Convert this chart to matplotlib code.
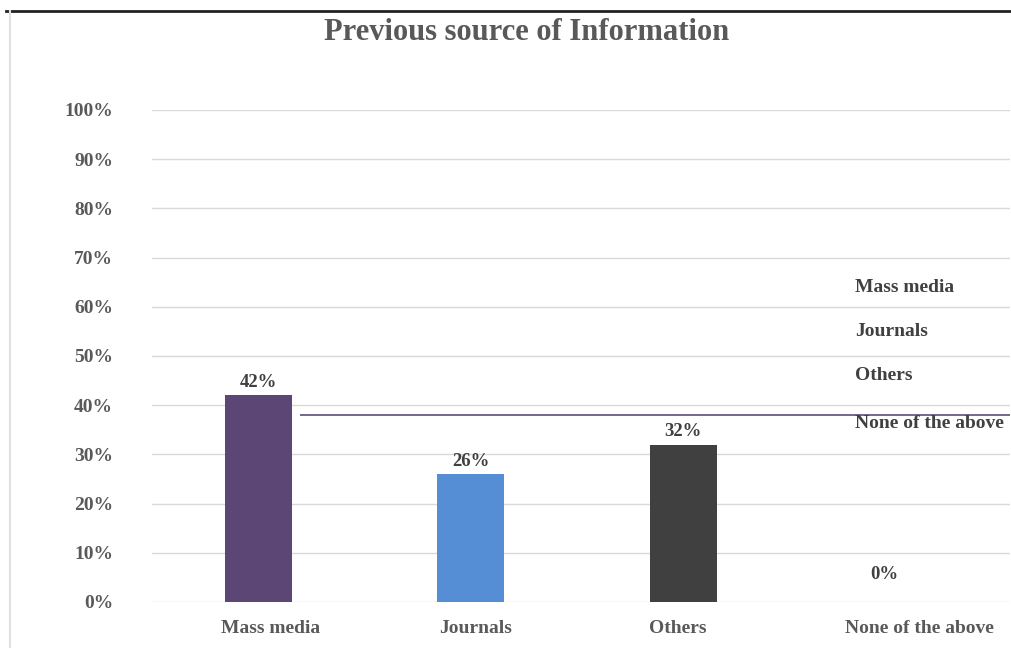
import matplotlib
matplotlib.use("Agg")
import matplotlib.pyplot as plt
from matplotlib.lines import Line2D
from matplotlib.transforms import ScaledTranslation

categories = ["Mass media", "Journals", "Others", "None of the above"]
shares = [0.42, 0.26, 0.32, 0.0]
bar_colors = ["#5B4676", "#558ED5", "#404040", "#8064A2"]
y_ticks = [0.0, 0.1, 0.2, 0.3, 0.4, 0.5, 0.6, 0.7, 0.8, 0.9, 1.0]
y_tick_labels = ["0%", "10%", "20%", "30%", "40%", "50%", "60%", "70%", "80%", "90%", "100%"]
series_line_level = 0.38
title = "Previous source of Information"

W, H = 1011, 648
fig = plt.figure(figsize=(W / 100, H / 100), dpi=100)
fig.patch.set_facecolor("white")

serif = ["Liberation Serif", "DejaVu Serif"]
text_gray = "#595959"
dark_gray = "#404040"

# plot area in pixel coordinates (from top-left)
left_px, right_px = 152, 1010
top_px, base_px = 110, 602
ax = fig.add_axes([left_px / W, 1 - base_px / H,
                   (right_px - left_px) / W, (base_px - top_px) / H])
slot = 212.5
ax.set_xlim(-0.5, -0.5 + (right_px - left_px) / slot)
ax.set_ylim(0, 1.0)

for y in y_ticks:
    ax.axhline(y, color="#d9d9d9", lw=1.0, zorder=0)

x = list(range(len(categories)))
ax.bar(x, shares, width=0.315, color=bar_colors, zorder=2)

for xi, v in zip(x, shares):
    label = f"{v * 100:.0f}%"
    dy = 3 if v > 0 else 14
    dx = 0 if v > 0 else -8
    ax.annotate(label, (xi, v), xytext=(dx, dy), textcoords="offset points",
                ha="center", va="bottom", fontsize=13.5, fontweight="bold",
                family=serif, color=dark_gray, zorder=3)

# overlaid series line
ax.hlines(series_line_level, 0.196, ax.get_xlim()[1], color="#6B5A86", lw=1.3, zorder=3)

ax.set_xticks(x)
ax.set_xticklabels(categories, family=serif, fontsize=14, fontweight="bold", color=text_gray)
ax.set_yticks(y_ticks)
ax.set_yticklabels(y_tick_labels, family=serif, fontsize=14, fontweight="bold", color=text_gray)
ax.tick_params(axis="both", length=0)
ax.tick_params(axis="y", pad=28)
ax.tick_params(axis="x", pad=13)
for s in ax.spines.values():
    s.set_visible(False)

# nudge category labels slightly right, as laid out under the bars
shifts = [0.12, 0.05, -0.06, 0.24]
for lab, sh in zip(ax.get_xticklabels(), shifts):
    lab.set_transform(lab.get_transform() + ScaledTranslation(sh, 0, fig.dpi_scale_trans))

# text-only legend
legend_y = [287, 331, 376, 423]
for name, ly in zip(categories, legend_y):
    fig.text(855 / W, 1 - ly / H, name, family=serif, fontsize=14, fontweight="bold",
             color=dark_gray, ha="left", va="center")

fig.text(527 / W, 1 - 32 / H, title, family=serif, fontsize=22, fontweight="bold",
         color=text_gray, ha="center", va="center")

# outer frame pieces
fig.add_artist(Line2D([6 / W, 1.0], [1 - 11 / H, 1 - 11 / H], color="#222222", lw=2.0,
                      transform=fig.transFigure))
fig.add_artist(Line2D([10 / W, 10 / W], [0, 1 - 11 / H], color="#e0e0e0", lw=1.5,
                      transform=fig.transFigure))

fig.savefig("out.png", dpi=100)
